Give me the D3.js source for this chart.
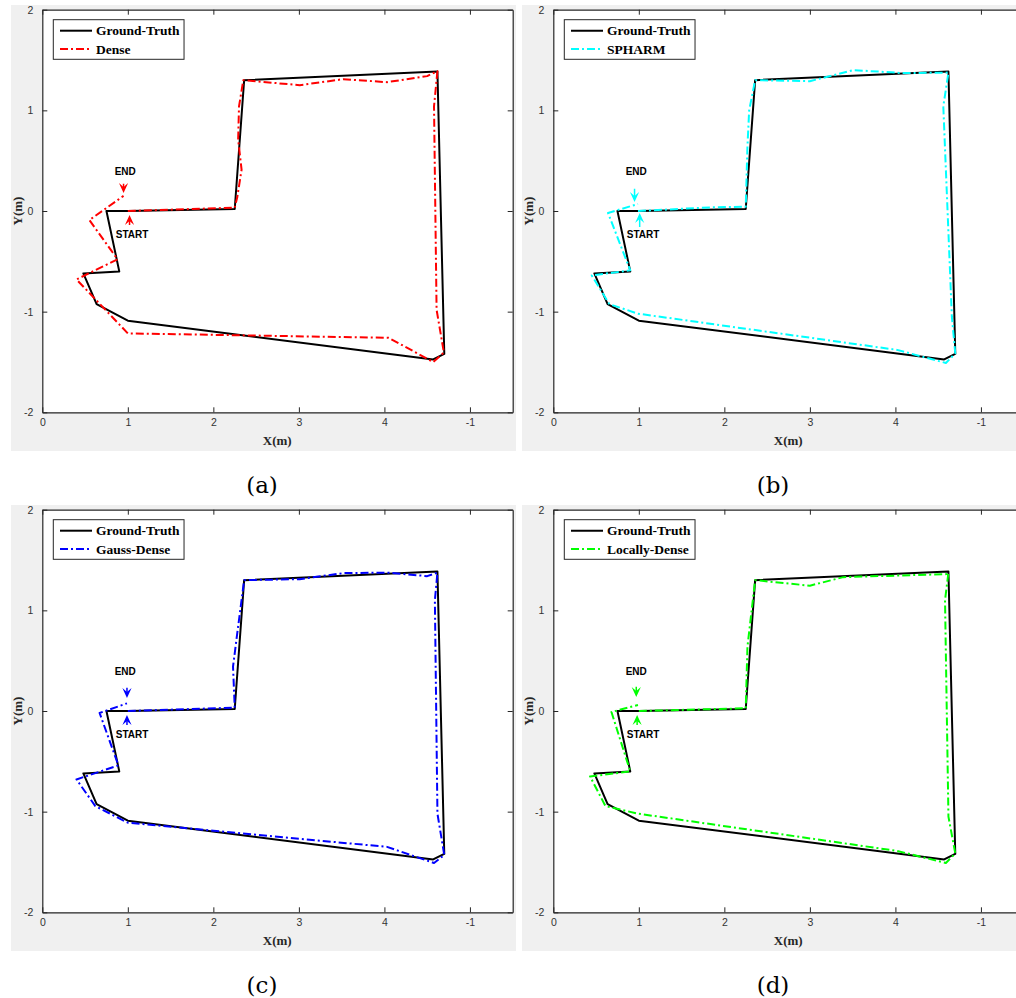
<!DOCTYPE html>
<html><head><meta charset="utf-8">
<script src="https://cdn.jsdelivr.net/npm/d3@7"></script>
<style>body{margin:0;background:#fff} svg{display:block}</style>
</head><body><svg id="c" width="1016" height="998"></svg>
<script>
// ---------- data ----------
const xTicks = [0, 1, 2, 3, 4, 5];
const xTickLabels = ["0", "1", "2", "3", "4", "-1"];
const yTicks = [-2, -1, 0, 1, 2];

const gtX = [1.0, 2.25, 2.36, 4.62, 4.70, 4.57, 1.0, 0.635, 0.48, 0.90, 0.75, 1.0];
const gtY = [0, 0.02, 1.30, 1.385, -1.42, -1.475, -1.09, -0.925, -0.62, -0.60, 0, 0];

const denseX = [1.0, 2.25, 2.28, 2.33, 2.29, 2.30, 2.35, 3.01, 3.52, 4.03, 4.50, 4.62, 4.58, 4.61, 4.69, 4.69, 4.57, 4.05, 1.0, 0.40, 0.88, 0.55, 0.95];
const denseY = [0, 0.033, 0.14, 0.41, 0.71, 1.04, 1.30, 1.25, 1.31, 1.28, 1.34, 1.39, 1.04, -0.98, -1.38, -1.41, -1.50, -1.26, -1.216, -0.68, -0.48, -0.09, 0.15];

const spharmX = [0.99, 1.83, 2.25, 2.27, 2.29, 2.36, 3.0, 3.51, 4.09, 4.62, 4.56, 4.66, 4.70, 4.59, 4.02, 0.99, 0.655, 0.45, 0.90, 0.64, 0.99];
const spharmY = [0, 0.036, 0.043, 0.64, 1.0, 1.30, 1.29, 1.40, 1.37, 1.375, 1.04, -1.05, -1.415, -1.51, -1.38, -1.02, -0.925, -0.64, -0.59, -0.02, 0.07];

const gaussX = [1.0, 2.25, 2.23, 2.27, 2.36, 3.01, 3.52, 4.03, 4.50, 4.62, 4.59, 4.62, 4.70, 4.58, 4.03, 2.0, 1.0, 0.62, 0.40, 0.89, 0.67, 0.99];
const gaussY = [0, 0.033, 0.44, 0.71, 1.30, 1.31, 1.37, 1.375, 1.34, 1.375, 1.10, -1.02, -1.43, -1.51, -1.35, -1.19, -1.11, -0.945, -0.68, -0.54, -0.02, 0.076];

const localX = [1.0, 2.25, 2.27, 2.36, 3.0, 3.39, 4.60, 4.62, 4.58, 4.62, 4.70, 4.59, 4.02, 0.99, 0.61, 0.43, 0.90, 0.68, 0.99];
const localY = [0, 0.027, 0.64, 1.30, 1.245, 1.33, 1.36, 1.375, 1.10, -1.05, -1.415, -1.51, -1.39, -1.02, -0.945, -0.65, -0.60, -0.01, 0.06];

const methodNames = ["Dense", "SPHARM", "Gauss-Dense", "Locally-Dense"];
const methodX = [denseX, spharmX, gaussX, localX];
const methodY = [denseY, spharmY, gaussY, localY];
const methodColors = ["#ff0000", "#00ffff", "#0000ff", "#00ff00"];
const captions = ["(a)", "(b)", "(c)", "(d)"];

// arrow annotations: [x, tailY, tipY]
const endArrows = [[0.95, 0.27, 0.18], [0.95, 0.22, 0.09], [0.99, 0.23, 0.13], [0.97, 0.24, 0.14]];
const startArrows = [[1.02, -0.14, -0.04], [1.01, -0.16, -0.02], [0.99, -0.14, -0.04], [0.98, -0.14, -0.04]];
const endLabelPos = [0.97, 0.39];
const startLabelPos = [1.05, -0.23];

// ---------- layout ----------
const svg = d3.select("#c");
const panels = [
  {gx: 11, gy: 5, ax: 42.3, ay: 9.7},
  {gx: 522, gy: 5, ax: 553.3, ay: 9.7},
  {gx: 11, gy: 505, ax: 42.3, ay: 509.7},
  {gx: 522, gy: 505, ax: 553.3, ay: 509.7}
];
const AW = 470.4, AH = 402.6, GW = 505, GH = 446;
const axisColor = "#262626";
const dash = "8,3,2,3";

panels.forEach((p, i) => {
  const g = svg.append("g");
  g.append("rect").attr("x", p.gx).attr("y", p.gy).attr("width", GW).attr("height", GH).attr("fill", "#f0f0f0");

  const x = d3.scaleLinear().domain([0, 5.5]).range([p.ax, p.ax + AW]);
  const y = d3.scaleLinear().domain([-2, 2]).range([p.ay + AH, p.ay]);

  g.append("rect").attr("x", p.ax).attr("y", p.ay).attr("width", AW).attr("height", AH).attr("fill", "#fff");

  const clipId = "clip" + i;
  svg.append("clipPath").attr("id", clipId).append("rect")
    .attr("x", p.ax).attr("y", p.ay).attr("width", AW).attr("height", AH);

  // axes
  const fmtX = (d, k) => xTickLabels[k];
  const bottom = g.append("g").attr("transform", `translate(0,${p.ay + AH})`)
    .call(d3.axisBottom(x).tickValues(xTicks).tickFormat(fmtX).tickSizeInner(-5).tickSizeOuter(0).tickPadding(9));
  const top = g.append("g").attr("transform", `translate(0,${p.ay})`)
    .call(d3.axisTop(x).tickValues(xTicks).tickFormat("").tickSizeInner(-5).tickSizeOuter(0));
  const left = g.append("g").attr("transform", `translate(${p.ax},0)`)
    .call(d3.axisLeft(y).tickValues(yTicks).tickFormat(d3.format("d")).tickSizeInner(-5).tickSizeOuter(0).tickPadding(9));
  const right = g.append("g").attr("transform", `translate(${p.ax + AW},0)`)
    .call(d3.axisRight(y).tickValues(yTicks).tickFormat("").tickSizeInner(-5).tickSizeOuter(0));
  [bottom, top, left, right].forEach(a => {
    a.selectAll("path").attr("stroke", axisColor).attr("stroke-width", 1.2);
    a.selectAll("line").attr("stroke", axisColor).attr("stroke-width", 1);
    a.selectAll("text").attr("fill", "#333").style("font-family", "'Liberation Sans', Arial, sans-serif").style("font-size", "10.5px");
  });
  left.selectAll("text").text(d => d < 0 ? "-" + Math.abs(d) : d);
  bottom.selectAll("text").attr("dy", "0.45em");

  // axis titles
  g.append("text").attr("x", p.ax + AW * 0.5 - 0.3).attr("y", p.ay + AH + 33)
    .attr("text-anchor", "middle").style("font-family", "'Liberation Serif', serif").style("font-weight", "bold")
    .style("font-size", "13px").attr("fill", axisColor).text("X(m)");
  g.append("text").attr("transform", `translate(${p.ax - 20},${y(0)}) rotate(-90)`)
    .attr("text-anchor", "middle").style("font-family", "'Liberation Serif', serif").style("font-weight", "bold")
    .style("font-size", "13px").attr("fill", axisColor).text("Y(m)");

  // lines
  const plot = g.append("g").attr("clip-path", `url(#${clipId})`);
  const line = d3.line().x(d => x(d[0])).y(d => y(d[1]));
  const gt = gtX.map((v, k) => [v, gtY[k]]);
  const est = methodX[i].map((v, k) => [v, methodY[i][k]]);
  plot.append("path").attr("d", line(gt)).attr("fill", "none").attr("stroke", "#000")
    .attr("stroke-width", 2).attr("stroke-linejoin", "round");
  plot.append("path").attr("d", line(est)).attr("fill", "none").attr("stroke", methodColors[i])
    .attr("stroke-width", 2).attr("stroke-dasharray", dash).attr("stroke-linejoin", "round");

  // arrows
  function arrow(a) {
    const ax0 = x(a[0]), ty = y(a[1]), hy = y(a[2]);
    const dir = hy > ty ? 1 : -1;
    const L = 10, W = 4.6, notch = 6;
    plot.append("line").attr("x1", ax0).attr("y1", ty).attr("x2", ax0).attr("y2", hy - dir * notch)
      .attr("stroke", methodColors[i]).attr("stroke-width", 1.5);
    const pts = [[ax0, hy], [ax0 - W, hy - dir * L], [ax0, hy - dir * notch], [ax0 + W, hy - dir * L]];
    plot.append("path").attr("d", "M" + pts.map(q => q.join(",")).join("L") + "Z").attr("fill", methodColors[i]);
  }
  arrow(endArrows[i]);
  arrow(startArrows[i]);
  const lblStyle = s => s.attr("text-anchor", "middle").style("font-family", "'Liberation Sans', Arial, sans-serif")
    .style("font-weight", "bold").style("font-size", "10px").attr("fill", "#000");
  g.append("text").attr("x", x(endLabelPos[0])).attr("y", y(endLabelPos[1])).attr("dy", "0.35em").call(lblStyle).text("END");
  g.append("text").attr("x", x(startLabelPos[0])).attr("y", y(startLabelPos[1])).attr("dy", "0.35em").call(lblStyle).text("START");

  // legend
  const lg = g.append("g").attr("transform", `translate(${p.ax + 11},${p.ay + 10})`);
  const box = lg.append("rect").attr("fill", "#fff").attr("stroke", axisColor).attr("stroke-width", 1);
  const names = ["Ground-Truth", methodNames[i]];
  const cols = ["#000", methodColors[i]];
  let maxW = 0;
  names.forEach((n, k) => {
    const yy = 11 + k * 18.3;
    lg.append("line").attr("x1", 6.7).attr("x2", 38.7).attr("y1", yy).attr("y2", yy)
      .attr("stroke", cols[k]).attr("stroke-width", 2)
      .attr("stroke-dasharray", k === 0 ? null : dash);
    const t = lg.append("text").attr("x", 42.7).attr("y", yy).attr("dy", "0.35em")
      .style("font-family", "'Liberation Serif', serif").style("font-weight", "bold").style("font-size", "13.5px")
      .attr("fill", "#000").text(n);
    maxW = Math.max(maxW, t.node().getComputedTextLength());
  });
  box.attr("x", 0).attr("y", 0).attr("width", 42.7 + maxW + 4.5).attr("height", 39.6);

  // caption
  svg.append("text").attr("x", p.gx + 251).attr("y", p.gy + 488)
    .attr("text-anchor", "middle").style("font-family", "'DejaVu Serif', serif").style("font-size", "23px")
    .attr("fill", "#000").text(captions[i]);
});
</script>
</body></html>
